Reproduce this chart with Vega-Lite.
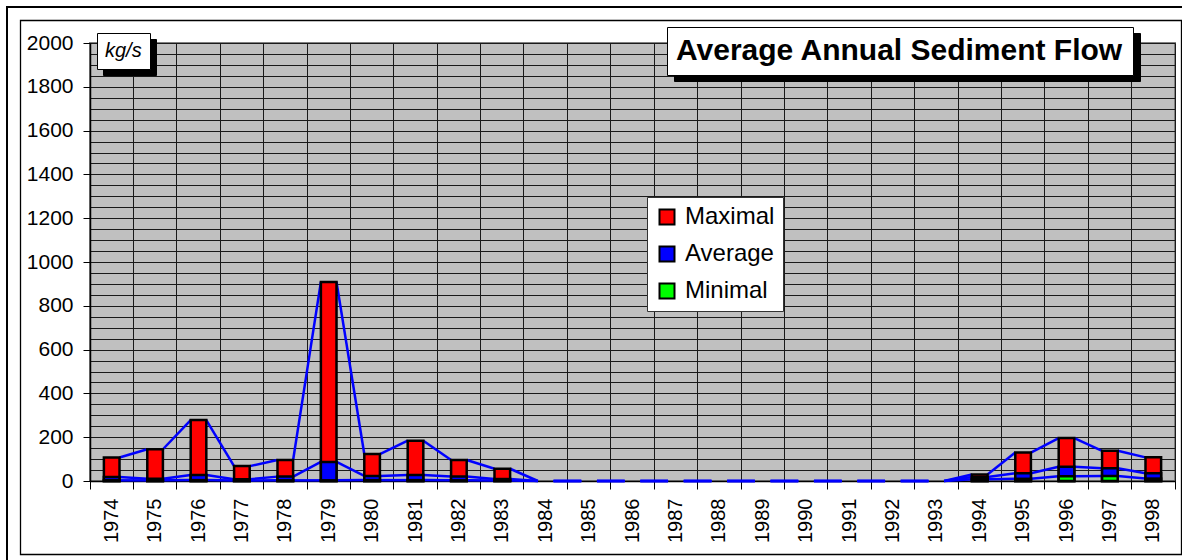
{
  "$schema": "https://vega.github.io/schema/vega-lite/v6.json",
  "width": 1085,
  "height": 438,
  "autosize": {"type": "none"},
  "padding": {"left": 90, "top": 43, "right": 7, "bottom": 79},
  "background": "white",
  "view": {"fill": "#c0c0c0", "stroke": "#808080", "strokeWidth": 2},
  "config": {
    "font": "Liberation Sans",
    "view": {"fill": "#c0c0c0", "stroke": "#808080", "strokeWidth": 2}
  },
  "datasets": {
    "flow": [
      {"year": "1974", "Maximal": 107, "Average": 18, "Minimal": 3},
      {"year": "1975", "Maximal": 145, "Average": 10, "Minimal": 3},
      {"year": "1976", "Maximal": 278, "Average": 27, "Minimal": 4},
      {"year": "1977", "Maximal": 68, "Average": 8, "Minimal": 2},
      {"year": "1978", "Maximal": 96, "Average": 20, "Minimal": 3},
      {"year": "1979", "Maximal": 909, "Average": 87, "Minimal": 3},
      {"year": "1980", "Maximal": 123, "Average": 23, "Minimal": 4},
      {"year": "1981", "Maximal": 184, "Average": 27, "Minimal": 4},
      {"year": "1982", "Maximal": 96, "Average": 20, "Minimal": 3},
      {"year": "1983", "Maximal": 56, "Average": 9, "Minimal": 2},
      {"year": "1984", "Maximal": 0, "Average": 0, "Minimal": 0},
      {"year": "1985", "Maximal": 0, "Average": 0, "Minimal": 0},
      {"year": "1986", "Maximal": 0, "Average": 0, "Minimal": 0},
      {"year": "1987", "Maximal": 0, "Average": 0, "Minimal": 0},
      {"year": "1988", "Maximal": 0, "Average": 0, "Minimal": 0},
      {"year": "1989", "Maximal": 0, "Average": 0, "Minimal": 0},
      {"year": "1990", "Maximal": 0, "Average": 0, "Minimal": 0},
      {"year": "1991", "Maximal": 0, "Average": 0, "Minimal": 0},
      {"year": "1992", "Maximal": 0, "Average": 0, "Minimal": 0},
      {"year": "1993", "Maximal": 0, "Average": 0, "Minimal": 0},
      {"year": "1994", "Maximal": 30, "Average": 18, "Minimal": 8},
      {"year": "1995", "Maximal": 130, "Average": 35, "Minimal": 10},
      {"year": "1996", "Maximal": 196, "Average": 65, "Minimal": 22},
      {"year": "1997", "Maximal": 138, "Average": 58, "Minimal": 23},
      {"year": "1998", "Maximal": 108, "Average": 35, "Minimal": 11}
    ]
  },
  "data": {"name": "flow"},
  "resolve": {"scale": {"shape": "independent"}, "legend": {"shape": "independent"}},
  "layer": [
    {
      "transform": [
        {"fold": ["Maximal", "Average", "Minimal"], "as": ["series", "value"]},
        {"window": [{"op": "lead", "field": "year", "as": "nextYear"}, {"op": "lead", "field": "value", "as": "nextValue"}], "groupby": ["series"], "sort": [{"field": "year", "order": "ascending"}]},
        {"filter": "datum.nextYear != null"}
      ],
      "mark": {"type": "rule", "color": "#0000ff", "strokeWidth": 2.5},
      "encoding": {
        "x": {
          "field": "year", "type": "ordinal", "bandPosition": 0.68,
          "scale": {"paddingInner": 0, "paddingOuter": 0},
          "axis": {
            "title": null, "labelAngle": -90, "labelFontSize": 20, "labelColor": "black",
            "labelPadding": 9, "tickSize": 8, "tickColor": "black", "domainColor": "black",
            "domainWidth": 1.5, "grid": true, "gridColor": "#1a1a1a", "gridWidth": 1,
            "bandPosition": 1, "tickExtra": true
          }
        },
        "x2": {"field": "nextYear", "bandPosition": 0.32},
        "y": {
          "field": "value", "type": "quantitative",
          "scale": {"domain": [0, 2000], "nice": false},
          "axis": {
            "title": null,
            "tickCount": 40,
            "labelExpr": "datum.value % 200 === 0 ? datum.label : ''",
            "format": "d",
            "labelFontSize": 21, "labelColor": "black", "labelPadding": 10,
            "tickSize": 7, "tickColor": "black",
            "tickOpacity": {"condition": {"test": "datum.value % 200 === 0", "value": 1}, "value": 0},
            "domainColor": "black", "domainWidth": 1.5,
            "grid": true, "gridColor": "#1a1a1a", "gridWidth": 1
          }
        },
        "y2": {"field": "nextValue"}
      }
    },
    {
      "transform": [
        {"fold": ["Maximal", "Average", "Minimal"], "as": ["series", "value"]},
        {"filter": "datum.value > 0"}
      ],
      "mark": {"type": "bar", "width": {"band": 0.36}, "stroke": "black", "strokeWidth": 2.5},
      "encoding": {
        "x": {"field": "year", "type": "ordinal"},
        "y": {"field": "value", "type": "quantitative", "stack": null},
        "fill": {
          "field": "series", "type": "nominal",
          "scale": {"domain": ["Maximal", "Average", "Minimal"], "range": ["#ff0000", "#0000ff", "#00ff00"]},
          "legend": {
            "title": null, "orient": "none", "legendX": 557, "legendY": 154,
            "fillColor": "white", "strokeColor": "#333333", "padding": 8,
            "symbolType": "square", "symbolSize": 225, "symbolStrokeColor": "black", "symbolStrokeWidth": 2,
            "labelFontSize": 24, "labelColor": "black", "labelOffset": 6, "rowPadding": 13,
            "zindex": 3
          }
        }
      }
    },
    {
      "data": {"values": [{}]},
      "mark": {"type": "point", "opacity": 0},
      "encoding": {
        "shape": {
          "datum": "Average Annual Sediment Flow",
          "legend": {
            "title": null, "orient": "none", "legendX": 584, "legendY": -10,
            "fillColor": "black", "strokeColor": "black", "padding": 9,
            "symbolSize": 1, "symbolOpacity": 0, "symbolStrokeWidth": 0, "labelOffset": -30, "labelLimit": 1000,
            "labelFontSize": 30, "labelFontWeight": "bold", "labelColor": "black",
            "zindex": 1
          }
        }
      }
    },
    {
      "data": {"values": [{}]},
      "mark": {"type": "point", "opacity": 0},
      "encoding": {
        "shape": {
          "datum": "Average Annual Sediment Flow",
          "legend": {
            "title": null, "orient": "none", "legendX": 577, "legendY": -16,
            "fillColor": "white", "strokeColor": "black", "padding": 9,
            "symbolSize": 1, "symbolOpacity": 0, "symbolStrokeWidth": 0, "labelOffset": -30, "labelLimit": 1000,
            "labelFontSize": 30, "labelFontWeight": "bold", "labelColor": "black",
            "zindex": 2
          }
        }
      }
    },
    {
      "data": {"values": [{}]},
      "mark": {"type": "point", "opacity": 0},
      "encoding": {
        "shape": {
          "datum": "kg/s",
          "legend": {
            "title": null, "orient": "none", "legendX": 13, "legendY": -4,
            "fillColor": "black", "strokeColor": "black", "padding": 8,
            "symbolSize": 1, "symbolOpacity": 0, "symbolStrokeWidth": 0, "labelOffset": -20, "labelLimit": 200,
            "labelFontSize": 20, "labelFontStyle": "italic", "labelColor": "black",
            "zindex": 1
          }
        }
      }
    },
    {
      "data": {"values": [{}]},
      "mark": {"type": "point", "opacity": 0},
      "encoding": {
        "shape": {
          "datum": "kg/s",
          "legend": {
            "title": null, "orient": "none", "legendX": 7, "legendY": -10,
            "fillColor": "white", "strokeColor": "black", "padding": 8,
            "symbolSize": 1, "symbolOpacity": 0, "symbolStrokeWidth": 0, "labelOffset": -20, "labelLimit": 200,
            "labelFontSize": 20, "labelFontStyle": "italic", "labelColor": "black",
            "zindex": 2
          }
        }
      }
    },
    {
      "data": {"values": [{}]},
      "mark": {"type": "point", "opacity": 0},
      "encoding": {
        "shape": {
          "datum": "inner frame",
          "scale": {"range": ["M-1,-0.45995H1V0.45995H-1Z"]},
          "legend": {
            "title": null, "orient": "none", "legendX": -70.5, "legendY": -337,
            "padding": 0, "symbolSize": 1347921, "symbolOpacity": 1,
            "symbolFillColor": "transparent", "symbolStrokeColor": "black", "symbolStrokeWidth": 1.3,
            "labelExpr": "''", "labelFontSize": 1, "labelOffset": 0,
            "zindex": 4
          }
        }
      }
    },
    {
      "data": {"values": [{}]},
      "mark": {"type": "point", "opacity": 0},
      "encoding": {
        "shape": {
          "datum": "outer frame",
          "scale": {"range": ["M-1,-0.4772H1V0.4772H-1Z"]},
          "legend": {
            "title": null, "orient": "none", "legendX": -84, "legendY": -347,
            "padding": 0, "symbolSize": 1406596, "symbolOpacity": 1,
            "symbolFillColor": "transparent", "symbolStrokeColor": "black", "symbolStrokeWidth": 2,
            "labelExpr": "''", "labelFontSize": 1, "labelOffset": 0,
            "zindex": 4
          }
        }
      }
    }
  ]
}
